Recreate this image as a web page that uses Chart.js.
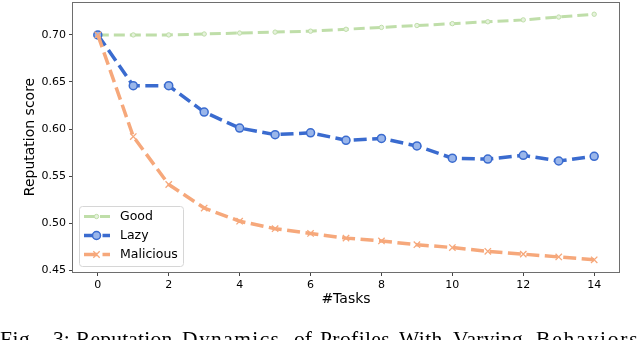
<!DOCTYPE html>
<html>
<head>
<meta charset="utf-8">
<script src="https://cdn.jsdelivr.net/npm/chart.js@4.4.1/dist/chart.umd.min.js"></script>
<style>
  html, body { margin:0; padding:0; background:#fff; overflow:hidden; }
  #wrap { position:relative; width:640px; height:340px; overflow:hidden; }
  #c { position:absolute; left:0; top:0; }
  #caption { position:absolute; left:0; top:329px; width:640px; height:30px;
    font-family:"Liberation Serif","Times New Roman",serif; font-size:21.5px; line-height:1; color:#000; }
  #caption span { position:absolute; top:0; white-space:nowrap; }
</style>
</head>
<body>
<div id="wrap">
  <canvas id="c" width="640" height="340"></canvas>
  <div id="caption"></div>
</div>
<script>
const tasks = [0,1,2,3,4,5,6,7,8,9,10,11,12,13,14];
const good = [0.700,0.700,0.700,0.701,0.702,0.703,0.704,0.706,0.708,0.710,0.712,0.714,0.716,0.719,0.722];
const lazy = [0.700,0.646,0.646,0.618,0.601,0.594,0.596,0.588,0.590,0.582,0.569,0.568,0.572,0.566,0.571];
const malicious = [0.700,0.592,0.541,0.516,0.502,0.494,0.489,0.484,0.481,0.477,0.474,0.470,0.467,0.464,0.461];
const seriesNames = ["Good","Lazy","Malicious"];
const xTicks = [0,2,4,6,8,10,12,14];
const yTicks = [0.45,0.50,0.55,0.60,0.65,0.70];
const captionWords = ["Fig.","3:","Reputation","Dynamics","of","Profiles","With","Varying","Behaviors"];
const captionWordX = [0,53,76,182,294,320,399,453,536];
const captionSpacing = [0.5,0,0.2,1.4,0,0.4,0.4,0.3,1.8];

// caption (justified line of the paper, words placed like the original)
const cap = document.getElementById('caption');
captionWords.forEach((w,i)=>{
  const s = document.createElement('span');
  s.textContent = w; s.style.left = captionWordX[i] + 'px';
  s.style.letterSpacing = captionSpacing[i] + 'px';
  cap.appendChild(s);
});

const colors = { good:'#bfdea9', lazy:'#3a6bcf', mal:'#f6a87b' };
const pts = arr => tasks.map((t,i)=>({x:t,y:arr[i]}));
const FONT = "'DejaVu Sans', sans-serif";

const legendPlugin = {
  id:'insideLegend',
  afterDraw(chart){
    const ctx = chart.ctx, a = chart.chartArea;
    const x0 = a.left+6, y0 = a.bottom-66, w = 104, h = 60;
    ctx.save();
    ctx.beginPath();
    ctx.roundRect(x0+0.5, y0+0.5, w, h, 3);
    ctx.fillStyle='rgba(255,255,255,0.85)'; ctx.fill();
    ctx.strokeStyle='#d6d6d6'; ctx.lineWidth=1; ctx.stroke();
    const ds = chart.data.datasets;
    ds.forEach((d,i)=>{
      const y = y0 + 10.5 + i*19;
      const cx = x0+17.5;
      ctx.save();
      ctx.strokeStyle = d.borderColor; ctx.lineWidth = d.borderWidth;
      ctx.setLineDash(d.borderDash); ctx.lineDashOffset = -1;
      ctx.beginPath(); ctx.moveTo(x0+4, y); ctx.lineTo(x0+31, y); ctx.stroke();
      ctx.restore();
      ctx.save();
      ctx.fillStyle = d.pointBackgroundColor; ctx.strokeStyle = d.pointBorderColor; ctx.lineWidth = d.pointBorderWidth;
      ctx.beginPath();
      if (d.pointStyle === 'circle') { ctx.arc(cx, y, d.pointRadius, 0, Math.PI*2); ctx.fill(); ctx.stroke(); }
      else { const r=d.pointRadius*0.707; ctx.moveTo(cx-r,y-r); ctx.lineTo(cx+r,y+r); ctx.moveTo(cx-r,y+r); ctx.lineTo(cx+r,y-r); ctx.stroke(); }
      ctx.restore();
      ctx.fillStyle='#000'; ctx.font = "12.5px " + FONT; ctx.textBaseline='middle'; ctx.textAlign='left';
      ctx.fillText(d.label, x0+41, y+0.5);
    });
    ctx.restore();
  }
};

const framePlugin = {
  id:'frame',
  afterDatasetsDraw(chart){
    const ctx = chart.ctx, a = chart.chartArea;
    ctx.save();
    ctx.strokeStyle='#6e6e6e'; ctx.lineWidth=1;
    ctx.strokeRect(Math.round(a.left)-0.5, Math.round(a.top)+0.5, Math.round(a.right-a.left)+1, Math.round(a.bottom-a.top));
    ctx.restore();
  }
};

new Chart(document.getElementById('c'), {
  type:'line',
  data:{
    datasets:[
      { label:seriesNames[0], data:pts(good), borderColor:colors.good, borderWidth:3, borderDash:[11,5],
        pointStyle:'circle', pointRadius:2.2, pointBackgroundColor:'#e6f2dd', pointBorderColor:colors.good, pointBorderWidth:1, order:3 },
      { label:seriesNames[1], data:pts(lazy), borderColor:colors.lazy, borderWidth:3.5, borderDash:[13,5.5],
        pointStyle:'circle', pointRadius:4, pointBackgroundColor:'#9ab6ea', pointBorderColor:colors.lazy, pointBorderWidth:1.5, order:2 },
      { label:seriesNames[2], data:pts(malicious), borderColor:colors.mal, borderWidth:3.5, borderDash:[13,5.5],
        pointStyle:'crossRot', pointRadius:4.5, pointBackgroundColor:colors.mal, pointBorderColor:colors.mal, pointBorderWidth:1.3, order:1 }
    ]
  },
  options:{
    responsive:false, animation:false, devicePixelRatio:1,
    layout:{ autoPadding:false, padding:{ top:2, right:21, left:0, bottom:0 } },
    plugins:{ legend:{display:false}, tooltip:{enabled:false} },
    elements:{ line:{ tension:0 } },
    scales:{
      x:{
        type:'linear', min:-0.7, max:14.7,
        afterBuildTicks(s){ s.ticks = xTicks.map(v=>({value:v})); },
        afterFit(s){ s.height = 68; s.paddingLeft = 0; s.paddingRight = 0; },
        grid:{ drawOnChartArea:false, drawTicks:true, tickLength:4, color:'#444' },
        border:{ display:false },
        ticks:{ color:'#000', padding:3, maxRotation:0, font:{ family:FONT, size:11 } },
        title:{ display:true, text:'#Tasks', color:'#000', font:{ family:FONT, size:14 }, padding:{top:0,bottom:32} }
      },
      y:{
        type:'linear', min:0.448, max:0.735,
        afterBuildTicks(s){ s.ticks = yTicks.map(v=>({value:v})); },
        afterFit(s){ s.width = 73; s.paddingTop = 0; s.paddingBottom = 0; },
        grid:{ drawOnChartArea:false, drawTicks:true, tickLength:4, color:'#444' },
        border:{ display:false },
        ticks:{ color:'#000', padding:3, font:{ family:FONT, size:11 }, callback:v=>v.toFixed(2) },
        title:{ display:true, text:'Reputation score', color:'#000', font:{ family:FONT, size:14 }, padding:{top:22,bottom:0} }
      }
    }
  },
  plugins:[framePlugin, legendPlugin]
});
</script>
</body>
</html>
